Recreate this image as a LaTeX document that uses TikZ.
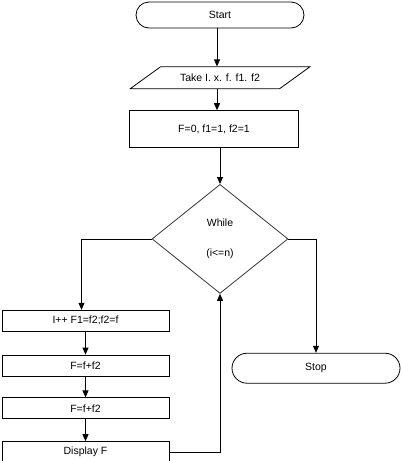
\documentclass[tikz,border=0pt]{standalone}
\usepackage{fontspec}
\setmainfont{Liberation Sans}
\usepackage{tikz}
\usetikzlibrary{shapes.geometric, arrows.meta, positioning}

\begin{document}
\begin{tikzpicture}[
                node distance=20pt,
                every node/.style={font=\fontsize{10.5}{12}\selectfont},
                terminal/.style={rectangle, rounded corners=13pt, draw=black, line width=0.8pt, minimum width=168pt, minimum height=26pt, align=center},
                io/.style={trapezium, trapezium left angle=33, trapezium right angle=147, trapezium stretches=true, draw=black, line width=0.8pt, minimum width=180pt, minimum height=22pt, align=center},
                process/.style={rectangle, draw=black, line width=0.8pt, minimum width=167pt, minimum height=21pt, inner sep=1pt, align=center},
                decision/.style={diamond, draw=black!80, line width=0.8pt, minimum width=136pt, minimum height=109pt, inner sep=0pt, align=center},
                arrow/.style={line width=0.8pt, -{Triangle[length=7pt, width=6pt]}},
                line/.style={line width=0.8pt}
            ]%
            \useasboundingbox (0,0) rectangle (402pt,-461pt);
            %
            % Nodos principales
            \node[terminal] (start) at (220pt,-15pt) {Start};
            \node[io, below=38pt of start] (input) {Take I. x. f. f1. f2};
            \node[process, below=21pt of input, minimum width=169pt, minimum height=37pt, xshift=-6pt] (init) {F=0, f1=1, f2=1};
            \node[decision, below=36pt of init, xshift=6pt] (loop) {While\\[18pt](i<=n)};
            %
            % Cuerpo del bucle
            \node[process, below=16pt of loop, xshift=-134.5pt] (step1) {I++ F1=f2;f2=f};
            \node[process, below=23pt of step1] (step2) {F=f+f2};
            \node[process, below=21pt of step2] (step3) {F=f+f2};
            \node[process, below=22pt of step3] (disp) {Display F};
            %
            % Fin
            \node[terminal, below=59pt of loop, xshift=96pt, minimum height=30pt, rounded corners=15pt] (stop) {Stop};
            %
            % Conexiones
            \draw[arrow] ([xshift=-3pt]start.south) -- ([xshift=-3pt]start.south |- input.north);
            \draw[arrow] ([xshift=-3pt]input.south) -- ([xshift=-3pt]input.south |- init.north);
            \draw[arrow] (init.south -| loop.north) -- (loop.north);
            \draw[arrow] (loop.west) -| ([xshift=-4pt]step1.north);
            \draw[arrow] (step1) -- (step2);
            \draw[arrow] (step2) -- (step3);
            \draw[arrow] (step3) -- (disp);
            \draw[arrow] (disp.east) -| (loop.south);
            \draw[arrow] (loop.east) -| (stop.north);
        \end{tikzpicture}
\end{document}
